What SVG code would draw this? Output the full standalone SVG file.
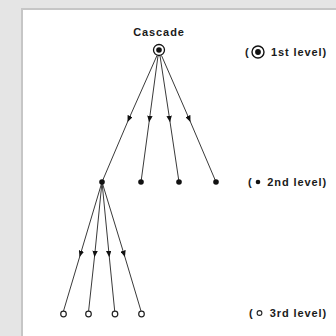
<svg xmlns="http://www.w3.org/2000/svg" width="336" height="336" viewBox="0 0 336 336">
<defs>
<style>
.lbl{font-family:"Liberation Sans",Arial,sans-serif;font-weight:bold;font-size:11px;fill:#1a1a1a;letter-spacing:0.9px}
.edge{fill:none;stroke:#3a3a3a;stroke-width:1;marker-mid:url(#arr)}
.n2{fill:#111}
.n3{fill:#fff;stroke:#222;stroke-width:1.2}
</style>
<marker id="arr" viewBox="0 0 12 10" refX="6" refY="5" markerWidth="6.5" markerHeight="5.4" markerUnits="userSpaceOnUse" orient="auto">
<path d="M0,0 L12,5 L0,10 Z" fill="#111"/>
</marker>
</defs>
<rect width="336" height="336" fill="#e5e5e5"/>
<rect x="22" y="9" width="320" height="335" fill="#fff" stroke="#c6c6c6" stroke-width="2"/>

<g id="connectors">
<path class="edge" d="M157,55.5 L128.8,119 L102,182"/>
<path class="edge" d="M158,55.8 L149.5,119 L141,182"/>
<path class="edge" d="M160,55.8 L169.6,119 L179,182"/>
<path class="edge" d="M161.5,55.5 L189.2,119 L216,182"/>
<path class="edge" d="M102,182 L80.5,254 L63.5,311"/>
<path class="edge" d="M102,182 L94.8,254 L88.6,311"/>
<path class="edge" d="M102,182 L109,254 L114.7,311"/>
<path class="edge" d="M102,182 L124,254 L141,311"/>
</g>

<g id="cascade-label"><text class="lbl" x="159" y="36" text-anchor="middle" font-size="11.5" letter-spacing="1.2">Cascade</text></g>

<g id="root">
<circle cx="159" cy="50" r="5.5" fill="#fff" stroke="#111" stroke-width="1.3"/>
<circle cx="159" cy="50" r="2.8" fill="#111"/>
</g>

<g id="n2a"><circle class="n2" cx="102" cy="182" r="2.8"/></g>
<g id="n2b"><circle class="n2" cx="141" cy="182" r="2.8"/></g>
<g id="n2c"><circle class="n2" cx="179" cy="182" r="2.8"/></g>
<g id="n2d"><circle class="n2" cx="216" cy="182" r="2.8"/></g>

<g id="n3a"><circle class="n3" cx="63.5" cy="314" r="2.8"/></g>
<g id="n3b"><circle class="n3" cx="88.5" cy="314" r="2.8"/></g>
<g id="n3c"><circle class="n3" cx="115" cy="314" r="2.8"/></g>
<g id="n3d"><circle class="n3" cx="141.5" cy="314" r="2.8"/></g>

<g id="legend1">
<text class="lbl" x="245" y="56">(</text>
<circle cx="258" cy="52" r="6" fill="#fff" stroke="#111" stroke-width="1.4"/>
<circle cx="258" cy="52" r="2.9" fill="#111"/>
<text class="lbl" x="327" y="56" text-anchor="end">1st level)</text>
</g>
<g id="legend2">
<text class="lbl" x="248" y="186">(</text>
<circle cx="258" cy="182" r="2.3" fill="#111"/>
<text class="lbl" x="327" y="186" text-anchor="end">2nd level)</text>
</g>
<g id="legend3">
<text class="lbl" x="249" y="317">(</text>
<circle cx="259.5" cy="313" r="2.4" fill="#fff" stroke="#222" stroke-width="1.1"/>
<text class="lbl" x="327" y="317" text-anchor="end">3rd level)</text>
</g>
</svg>
